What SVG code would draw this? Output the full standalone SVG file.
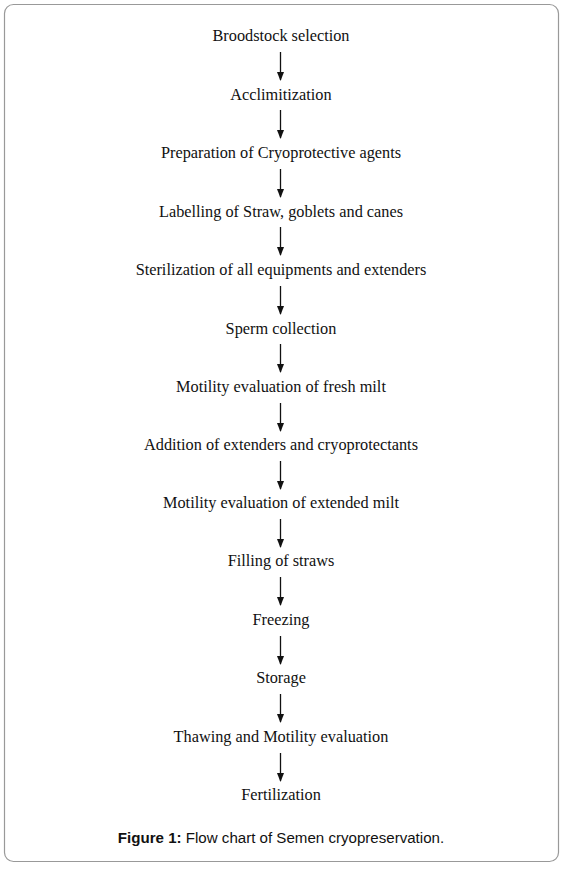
<svg xmlns="http://www.w3.org/2000/svg" width="564" height="870" viewBox="0 0 564 870">
<style>
.t{font-family:"Liberation Serif","Times New Roman",serif;font-size:16.3px;fill:#111;text-anchor:middle}
.c{font-family:"Liberation Sans",Arial,sans-serif;font-size:15.1px;fill:#111;text-anchor:middle}
.a{stroke:#111;stroke-width:1.3;fill:none;marker-end:url(#ah)}
</style>
<defs>
<marker id="ah" markerWidth="9" markerHeight="7" refX="8" refY="3.5" orient="auto" markerUnits="userSpaceOnUse" viewBox="0 0 9 7">
<path d="M0,0 L9,3.5 L0,7 Z" fill="#111"/>
</marker>
</defs>
<rect x="4.5" y="4.5" width="554" height="857" rx="9" ry="9" fill="#fff" stroke="#999" stroke-width="1.2"/>
<g id="n1"><text class="t" x="281" y="41">Broodstock selection</text></g>
<g id="n2"><text class="t" x="281" y="100">Acclimitization</text></g>
<g id="n3"><text class="t" x="281" y="158">Preparation of Cryoprotective agents</text></g>
<g id="n4"><text class="t" x="281" y="217">Labelling of Straw, goblets and canes</text></g>
<g id="n5"><text class="t" x="281" y="275">Sterilization of all equipments and extenders</text></g>
<g id="n6"><text class="t" x="281" y="334">Sperm collection</text></g>
<g id="n7"><text class="t" x="281" y="392">Motility evaluation of fresh milt</text></g>
<g id="n8"><text class="t" x="281" y="450">Addition of extenders and cryoprotectants</text></g>
<g id="n9"><text class="t" x="281" y="508">Motility evaluation of extended milt</text></g>
<g id="n10"><text class="t" x="281" y="566">Filling of straws</text></g>
<g id="n11"><text class="t" x="281" y="625">Freezing</text></g>
<g id="n12"><text class="t" x="281" y="683">Storage</text></g>
<g id="n13"><text class="t" x="281" y="742">Thawing and Motility evaluation</text></g>
<g id="n14"><text class="t" x="281" y="800">Fertilization</text></g>
<g id="connectors">
<line class="a" x1="280.5" y1="52" x2="280.5" y2="80"/>
<line class="a" x1="280.5" y1="110" x2="280.5" y2="138"/>
<line class="a" x1="280.5" y1="169" x2="280.5" y2="197"/>
<line class="a" x1="280.5" y1="227" x2="280.5" y2="255"/>
<line class="a" x1="280.5" y1="286" x2="280.5" y2="314"/>
<line class="a" x1="280.5" y1="344" x2="280.5" y2="372"/>
<line class="a" x1="280.5" y1="403" x2="280.5" y2="431"/>
<line class="a" x1="280.5" y1="461" x2="280.5" y2="489"/>
<line class="a" x1="280.5" y1="519" x2="280.5" y2="547"/>
<line class="a" x1="280.5" y1="577" x2="280.5" y2="605"/>
<line class="a" x1="280.5" y1="636" x2="280.5" y2="664"/>
<line class="a" x1="280.5" y1="694" x2="280.5" y2="722"/>
<line class="a" x1="280.5" y1="753" x2="280.5" y2="781"/>
</g>
<text class="c" x="281" y="843"><tspan font-weight="bold">Figure 1:</tspan> Flow chart of Semen cryopreservation.</text>
</svg>
